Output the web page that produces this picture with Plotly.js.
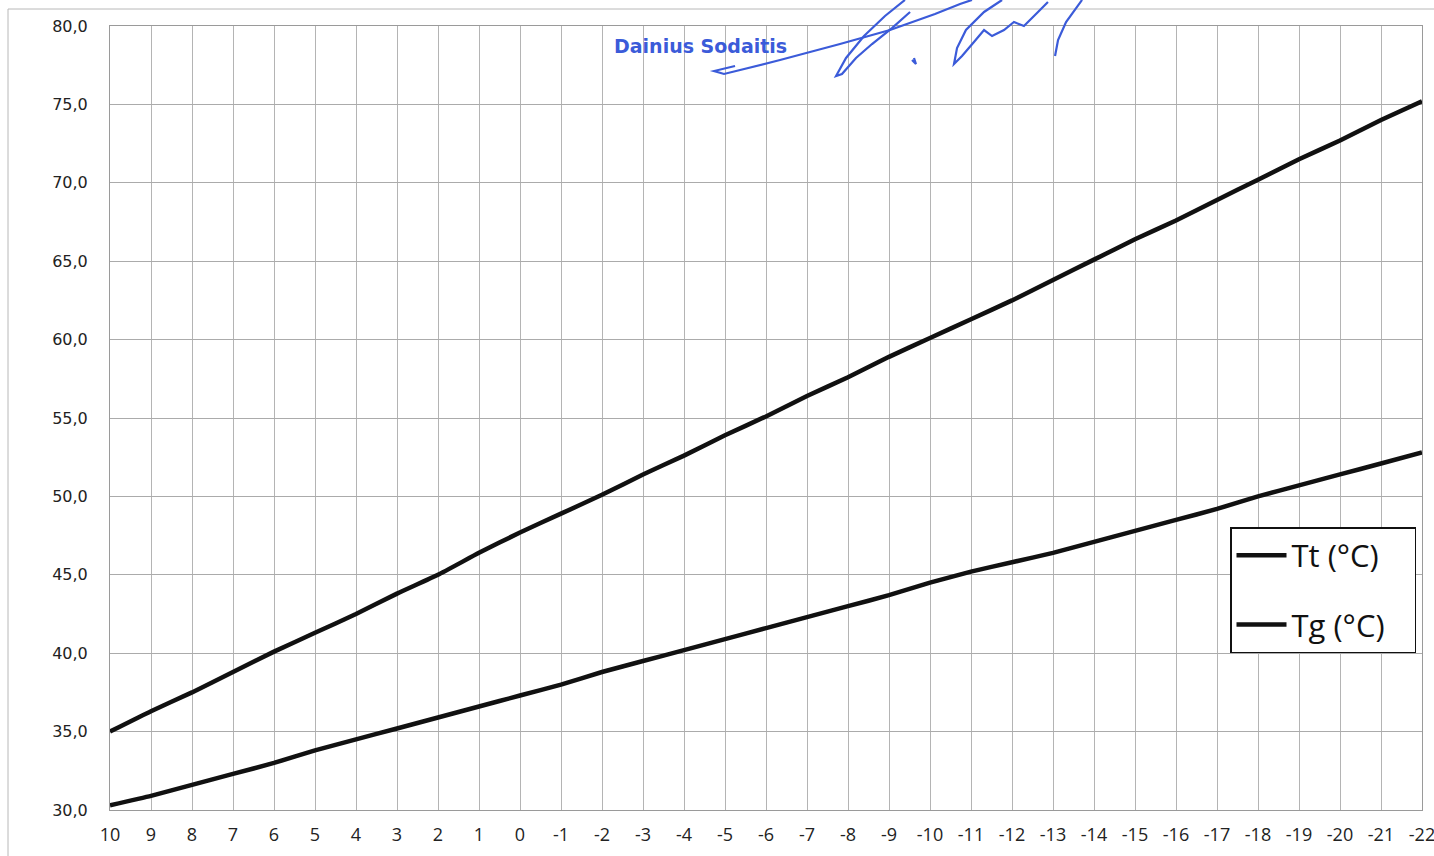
<!DOCTYPE html>
<html>
<head>
<meta charset="utf-8">
<script src="https://cdn.plot.ly/plotly-3.0.1.min.js"></script>
<style>
  html, body { margin: 0; padding: 0; background: #fff; }
  #chart { width: 1434px; height: 856px; }
</style>
</head>
<body>
<div id="chart"></div>
<script>
// Outdoor temperature categories (°C)
const outdoorTemps = ["10","9","8","7","6","5","4","3","2","1","0","-1","-2","-3","-4","-5","-6","-7","-8","-9","-10","-11","-12","-13","-14","-15","-16","-17","-18","-19","-20","-21","-22"];
// Supply temperature Tt (°C)
const ttValues = [35.0,36.3,37.5,38.8,40.1,41.3,42.5,43.8,45.0,46.4,47.7,48.9,50.1,51.4,52.6,53.9,55.1,56.4,57.6,58.9,60.1,61.3,62.5,63.8,65.1,66.4,67.6,68.9,70.2,71.5,72.7,74.0,75.2];
// Return temperature Tg (°C)
const tgValues = [30.3,30.9,31.6,32.3,33.0,33.8,34.5,35.2,35.9,36.6,37.3,38.0,38.8,39.5,40.2,40.9,41.6,42.3,43.0,43.7,44.5,45.2,45.8,46.4,47.1,47.8,48.5,49.2,50.0,50.7,51.4,52.1,52.8];
const seriesNames = ["Tt (°C)", "Tg (°C)"];
const signatureName = "Dainius Sodaitis";

// plot area in page pixels (for decoration placement)
const PL = 110, PR = 1422, PT = 26, PB = 810;
function px(x){ return (x - PL) / (PR - PL); }
function py(y){ return (PB - y) / (PB - PT); }
function pathFrom(pts){
  return pts.map((p,i)=> (i? 'L':'M') + px(p[0]).toFixed(4) + ',' + py(p[1]).toFixed(4)).join(' ');
}

const traces = [
  { x: outdoorTemps, y: ttValues, name: seriesNames[0] + '\u00a0\u00a0\u00a0', type: 'scatter', mode: 'lines',
    line: { color: '#111', width: 4.5, shape: 'spline', smoothing: 0.4 }, legendgroup: 'a' },
  { x: outdoorTemps, y: tgValues, name: seriesNames[1] + '\u00a0\u00a0\u00a0', type: 'scatter', mode: 'lines',
    line: { color: '#111', width: 4.5, shape: 'spline', smoothing: 0.4 }, legendgroup: 'b' }
];

const sigColor = '#3b5bd9';
const sigStrokes = [
  [[735,66],[714,71],[724,74],[780,60],[840,44],[890,30],[935,14],[960,4],[972,0]],
  [[905,0],[885,16],[864,36],[846,58],[836,76],[842,74],[856,58],[872,44],[892,28],[910,12]],
  [[1002,0],[984,12],[966,30],[957,48],[954,64],[962,56],[974,42],[984,30],[992,36],[1004,30],[1014,22],[1024,26],[1036,14],[1048,2]],
  [[1082,0],[1066,22],[1058,40],[1055,56]],
  [[912,60],[916,64],[914,58]]
];

const shapes = [
  // outer chart frame (top & left)
  { type:'line', xref:'paper', yref:'paper', x0:px(8), x1:px(1434), y0:py(9), y1:py(9),
    line:{ color:'#b8b8b8', width:1 } },
  { type:'line', xref:'paper', yref:'paper', x0:px(8), x1:px(8), y0:py(9), y1:py(856),
    line:{ color:'#b8b8b8', width:1 } }
].concat(sigStrokes.map(s => ({
  type:'path', xref:'paper', yref:'paper', path: pathFrom(s),
  line:{ color: sigColor, width: 2.2 }, layer:'above'
})));

const layout = {
  width: 1434, height: 856,
  margin: { l: PL, r: 1434 - PR, t: PT, b: 856 - PB, pad: 0 },
  paper_bgcolor: '#fff', plot_bgcolor: '#fff',
  separators: ', ',
  showlegend: true,
  legend: {
    x: px(1230), y: py(527), xanchor: 'left', yanchor: 'top',
    bgcolor: '#fff', bordercolor: '#111', borderwidth: 1.5,
    font: { family: 'Open Sans, sans-serif', size: 31, color: '#111' },
    traceorder: 'grouped', tracegroupgap: 26, itemwidth: 50
  },
  xaxis: {
    type: 'category', range: [0, outdoorTemps.length - 1],
    showgrid: true, gridcolor: '#b4b4b4', gridwidth: 1,
    showline: true, linecolor: '#9a9a9a', linewidth: 1, mirror: true,
    ticks: '', ticklabelstandoff: 8,
    tickfont: { family: 'Open Sans, sans-serif', size: 18, color: '#222' },
    zeroline: false, fixedrange: true
  },
  yaxis: {
    range: [30, 80], dtick: 5, tick0: 30, tickformat: '.1f',
    showgrid: true, gridcolor: '#ababab', gridwidth: 1,
    showline: true, linecolor: '#9a9a9a', linewidth: 1, mirror: true,
    ticks: '', ticklabelstandoff: 18,
    tickfont: { family: 'DejaVu Sans, Verdana, sans-serif', size: 16, color: '#222' },
    zeroline: false, fixedrange: true
  },
  shapes: shapes,
  annotations: [
    { text: '<b>' + signatureName + '</b>', xref:'paper', yref:'paper',
      x: px(700), y: py(46), xanchor:'center', yanchor:'middle', showarrow:false,
      font: { family: 'DejaVu Sans, Arial, sans-serif', size: 19, color: sigColor } }
  ]
};

Plotly.newPlot('chart', traces, layout, { displayModeBar: false, staticPlot: true });
</script>
</body>
</html>
